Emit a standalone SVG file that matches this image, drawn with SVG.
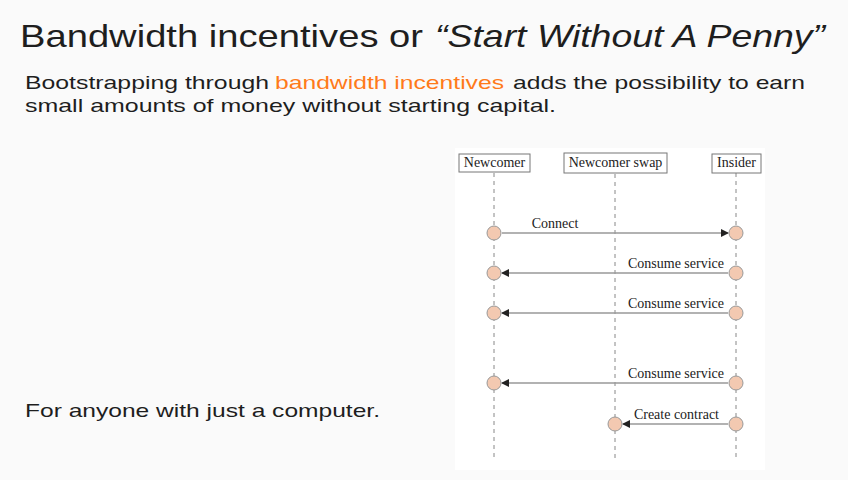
<svg xmlns="http://www.w3.org/2000/svg" width="848" height="480" viewBox="0 0 848 480">
<defs>
<style>
.sans{font-family:"Liberation Sans",Arial,sans-serif;fill:#1e1e1e}
.ser{font-family:"Liberation Serif","DejaVu Serif",serif;font-size:14px;fill:#222}
.hdr{fill:#fff;stroke:#777;stroke-width:1}
.life{stroke:#888;stroke-width:1;stroke-dasharray:4 4}
.act{fill:#f3c9b1;stroke:#999;stroke-width:1}
.msg{stroke:#999;stroke-width:1.5;fill:none}
</style>
<marker id="ah" viewBox="0 0 8 8" refX="7" refY="4" markerWidth="8" markerHeight="8" markerUnits="userSpaceOnUse" orient="auto"><path d="M0,0 L8,4 L0,8 z" fill="#222"/></marker>
</defs>
<rect x="0" y="0" width="848" height="480" fill="#fafafa"/>
<text class="sans" x="20" y="47" font-size="32" textLength="403" lengthAdjust="spacingAndGlyphs">Bandwidth incentives or</text>
<text class="sans" x="435" y="47" font-size="32" font-style="italic" textLength="390" lengthAdjust="spacingAndGlyphs">“Start Without A Penny”</text>
<text class="sans" x="25" y="89" font-size="19" textLength="244" lengthAdjust="spacingAndGlyphs">Bootstrapping through</text>
<text class="sans" x="275" y="89" font-size="19" style="fill:#ff7a1a" textLength="229" lengthAdjust="spacingAndGlyphs">bandwidth incentives</text>
<text class="sans" x="513" y="89" font-size="19" textLength="292" lengthAdjust="spacingAndGlyphs">adds the possibility to earn</text>
<text class="sans" x="25" y="112" font-size="19" textLength="531" lengthAdjust="spacingAndGlyphs">small amounts of money without starting capital.</text>
<text class="sans" x="25" y="417" font-size="19" textLength="355" lengthAdjust="spacingAndGlyphs">For anyone with just a computer.</text>
<rect x="455" y="148" width="310" height="322" fill="#fff"/>
<g id="connectors">
<line class="life" x1="494" y1="173" x2="494" y2="458"/>
<line class="life" x1="615" y1="174" x2="615" y2="458"/>
<line class="life" x1="736" y1="173" x2="736" y2="458"/>
<line class="msg" x1="502" y1="233" x2="728" y2="233" marker-end="url(#ah)"/>
<text class="ser" x="555" y="228" text-anchor="middle">Connect</text>
<line class="msg" x1="728" y1="273" x2="502" y2="273" marker-end="url(#ah)"/>
<text class="ser" x="724" y="268" text-anchor="end">Consume service</text>
<line class="msg" x1="728" y1="313" x2="502" y2="313" marker-end="url(#ah)"/>
<text class="ser" x="724" y="308" text-anchor="end">Consume service</text>
<line class="msg" x1="728" y1="383" x2="502" y2="383" marker-end="url(#ah)"/>
<text class="ser" x="724" y="378" text-anchor="end">Consume service</text>
<line class="msg" x1="728" y1="424" x2="623" y2="424" marker-end="url(#ah)"/>
<text class="ser" x="719" y="419" text-anchor="end">Create contract</text>
</g>
<g id="newcomer"><rect class="hdr" x="459" y="154" width="71" height="18"/><text class="ser" x="494.5" y="167" text-anchor="middle">Newcomer</text>
<circle class="act" cx="494" cy="233" r="7"/><circle class="act" cx="494" cy="273" r="7"/><circle class="act" cx="494" cy="313" r="7"/><circle class="act" cx="494" cy="383" r="7"/></g>
<g id="swap"><rect class="hdr" x="564" y="153" width="103" height="20"/><text class="ser" x="615.5" y="167" text-anchor="middle">Newcomer swap</text>
<circle class="act" cx="615" cy="424" r="7"/></g>
<g id="insider"><rect class="hdr" x="712" y="154" width="49" height="19"/><text class="ser" x="736.5" y="167" text-anchor="middle">Insider</text>
<circle class="act" cx="736" cy="233" r="7"/><circle class="act" cx="736" cy="273" r="7"/><circle class="act" cx="736" cy="313" r="7"/><circle class="act" cx="736" cy="383" r="7"/><circle class="act" cx="736" cy="424" r="7"/></g>
</svg>
